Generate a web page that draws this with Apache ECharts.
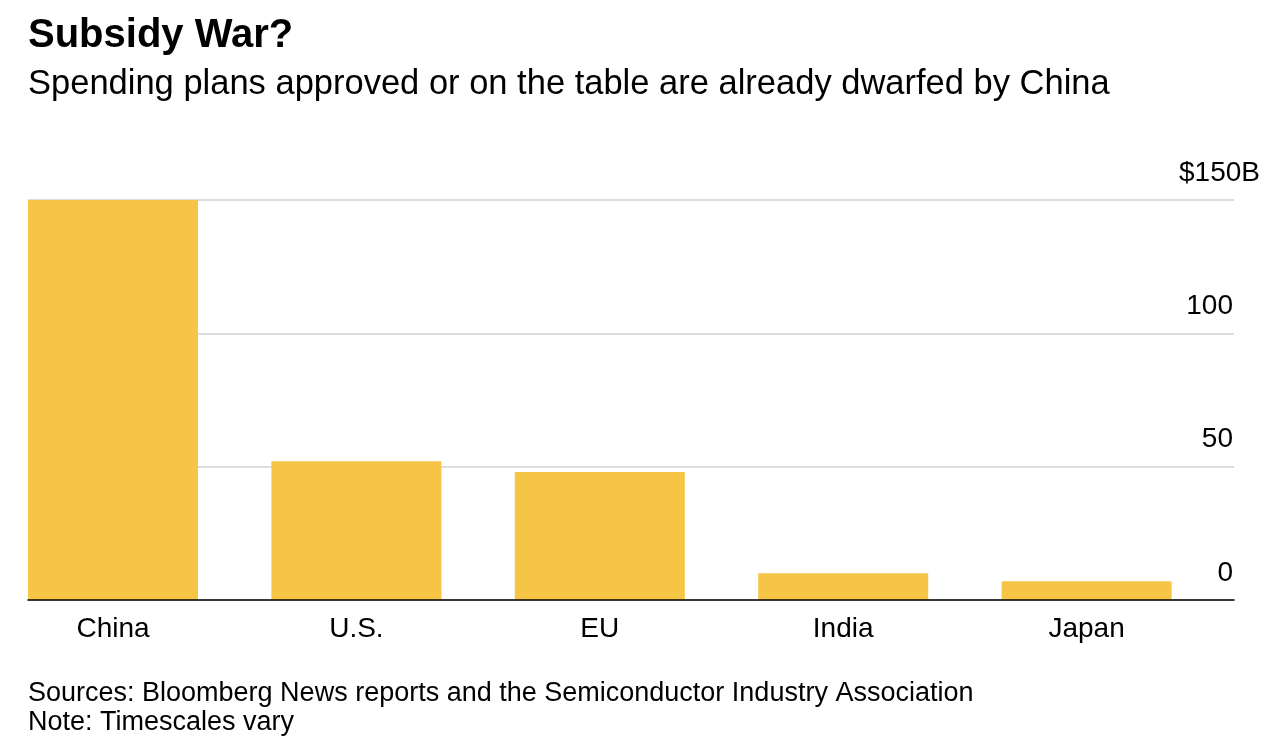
<!DOCTYPE html>
<html>
<head>
<meta charset="utf-8">
<script src="https://cdn.jsdelivr.net/npm/echarts@6/dist/echarts.min.js"></script>
<style>
html,body{margin:0;padding:0;background:#fff;overflow:hidden;}
#wrap{position:relative;width:1284px;height:752px;overflow:hidden;}
#chart{position:absolute;left:-9px;top:0;width:1293px;height:752px;}
</style>
</head>
<body>
<div id="wrap"><div id="chart"></div></div>
<script>
const categories = ["China", "U.S.", "EU", "India", "Japan"];
const spending = [150, 52, 48, 10, 7];
const yTicks = [0, 50, 100, 150];
const titleText = "Subsidy War?";
const subtitleText = "Spending plans approved or on the table are already dwarfed by China";
const footerLines = ["Sources: Bloomberg News reports and the Semiconductor Industry Association", "Note: Timescales vary"];

const FONT = '"Liberation Sans", Arial, Helvetica, sans-serif';
const SHIFT = 9; // chart canvas starts 9px left of the page
const chart = echarts.init(document.getElementById('chart'), null, {renderer: 'canvas'});

const option = {
  backgroundColor: '#ffffff',
  animation: false,
  grid: [
    {left: 28 + SHIFT, right: 50, top: 200, bottom: 152},
    {left: -8.7 + SHIFT, right: 75.7, top: 200, bottom: 152},
    {left: 28 + SHIFT, right: 24, top: 173, bottom: 179}
  ],
  xAxis: [
    {
      gridIndex: 0, type: 'category', data: categories, z: 5,
      axisLine: {show: true, lineStyle: {color: '#000', width: 1.5}},
      axisTick: {show: false}, axisLabel: {show: false}, splitLine: {show: false}
    },
    {
      gridIndex: 1, type: 'category', data: categories,
      axisLine: {show: false}, axisTick: {show: false},
      axisLabel: {show: true, color: '#000', fontSize: 28, fontFamily: FONT, margin: 15}
    },
    {
      gridIndex: 2, type: 'category', data: categories, show: false
    }
  ],
  yAxis: [
    {
      gridIndex: 0, type: 'value', position: 'right', min: 0, max: 150, interval: 50,
      axisLine: {show: false}, axisTick: {show: false}, axisLabel: {show: false},
      splitLine: {show: true, lineStyle: {color: '#dcdcdc', width: 2}}
    },
    {
      gridIndex: 1, type: 'value', min: 0, max: 150, interval: 50, show: false,
      splitLine: {show: false}
    },
    {
      gridIndex: 2, type: 'value', position: 'right', min: 0, max: 150, interval: 50,
      axisLine: {show: false}, axisTick: {show: false}, splitLine: {show: false},
      axisLabel: {
        show: true, inside: true, margin: 0, color: '#000', fontSize: 28, fontFamily: FONT,
        align: 'right', verticalAlign: 'middle',
        formatter: function (v) {
          return v === yTicks[yTicks.length - 1] ? '$' + v + 'B' : '{p|' + v + '}';
        },
        rich: {p: {fontSize: 28, fontFamily: FONT, color: '#000', padding: [0, 27, 0, 0]}}
      }
    }
  ],
  series: [
    {
      type: 'bar', xAxisIndex: 1, yAxisIndex: 1, data: spending,
      barWidth: 170, itemStyle: {color: '#F6C545'}, silent: true
    }
  ],
  graphic: [
    {type: 'text', x: 28 + SHIFT, y: 36, style: {text: titleText, fontSize: 40, fontWeight: 'bold', fontFamily: FONT, fill: '#000', verticalAlign: 'middle'}},
    {type: 'text', x: 28 + SHIFT, y: 84, style: {text: subtitleText, fontSize: 34.5, fontFamily: FONT, fill: '#000', verticalAlign: 'middle'}},
    {type: 'text', x: 28 + SHIFT, y: 693.5, style: {text: footerLines[0], fontSize: 27, fontFamily: FONT, fill: '#000', verticalAlign: 'middle'}},
    {type: 'text', x: 28 + SHIFT, y: 722.5, style: {text: footerLines[1], fontSize: 27, fontFamily: FONT, fill: '#000', verticalAlign: 'middle'}}
  ]
};
chart.setOption(option);
</script>
</body>
</html>
